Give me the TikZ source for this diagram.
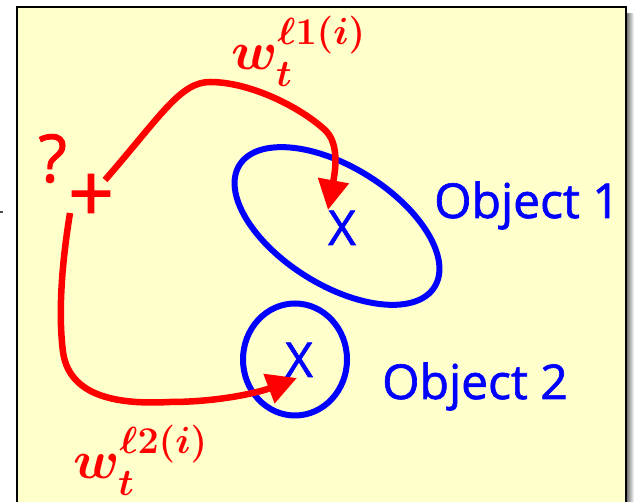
\RequirePackage{fix-cm}
\documentclass[tikz,border=0pt]{standalone}
\usepackage[no-math]{fontspec}
\newfontfamily\osans[FakeBold=1.4]{Open Sans}
\usetikzlibrary{arrows.meta}
\definecolor{bgyellow}{RGB}{255,255,204}
\newcommand{\wsup}[1]{w_t^{\raisebox{6pt}{$\scriptstyle #1$}}}
\begin{document}
\begin{tikzpicture}[x=1pt,y=1pt,
  objtxt/.style={text=blue, font=\osans\fontsize{48}{52}\selectfont, inner sep=0pt},
  wlabel/.style={text=red, font=\fontsize{54}{64}\selectfont\boldmath, inner sep=0pt, anchor=base west},
  ring/.style={draw=blue, line width=6pt},
  wire/.style={draw=red, line width=6.5pt, -{Triangle[length=30pt,width=30pt]}}]
\useasboundingbox (0,0) rectangle (634,502);
% frame
\shade[left color=black!60, right color=white] (626,-2) rectangle (634,488);
\fill[bgyellow] (17,-2) rectangle (626,495);
\draw[line width=2pt] (17,-2) -- (17,495) -- (626,495) -- (626,-2);
\draw[line width=1.5pt, black!70] (0,290) -- (3,290);
% objects
\draw[ring, rotate around={-32:(337,276)}] (337,276) ellipse [x radius=115, y radius=59];
\draw[ring] (295,142.5) ellipse [x radius=52, y radius=56];
\node[objtxt, anchor=base] (x1) at (342,257) {X};
\node[objtxt, anchor=base] (x2) at (299,125) {X};
\node[objtxt, anchor=base west] (o1) at (434,284) {Object 1};
\node[objtxt, anchor=base west] (o2) at (382,103) {Object 2};
% query point
\node[text=red, font=\osans\fontsize{66}{70}\selectfont, inner sep=0pt, anchor=base east] (q) at (67,320) {?};
\node[text=red, font=\osans\fontsize{80}{90}\selectfont, inner sep=0pt, anchor=west] (p) at (68,304) {+};
% connectors
\coordinate (s1) at (105,322);
\coordinate (pk) at (210,420);
\coordinate (m1) at (325,372);
\coordinate (t1) at (328,292);
\draw[wire] (s1) .. controls (160,385) and (180,420) .. (pk)
  .. controls (250,420) and (300,395) .. (m1)
  .. controls (340,358) and (335,330) .. (t1);
\coordinate (s2) at (70,289);
\coordinate (a2) at (63,150);
\coordinate (b2) at (170,100);
\coordinate (t2) at (297,124);
\draw[wire] (s2) .. controls (62,240) and (58,190) .. (a2)
  .. controls (70,100) and (130,98) .. (b2)
  .. controls (220,100) and (260,110) .. (t2);
% labels
\node[wlabel] (w1) at (231,432) {$\wsup{\ell 1(i)}$};
\node[wlabel] (w2) at (73,23) {$\wsup{\ell 2(i)}$};
\end{tikzpicture}
\end{document}
